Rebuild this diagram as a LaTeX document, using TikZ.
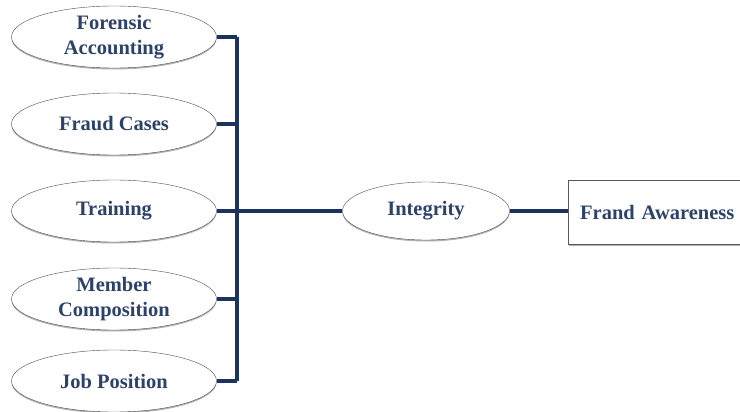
\documentclass[tikz,border=0pt]{standalone}
\usepackage{fontspec}
\setmainfont{Liberation Serif}
\usetikzlibrary{shapes.geometric,shadows}
\definecolor{busblue}{RGB}{28,52,92}
\definecolor{labelblue}{RGB}{45,66,105}
\tikzset{
    factor/.style={ellipse, draw=gray!60!black, fill=white, thin,
        minimum width=205pt, minimum height=62pt, inner sep=0pt,
        align=center, text=labelblue,
        font=\bfseries\fontsize{20.5}{25}\selectfont,
        drop shadow={shadow xshift=0pt, shadow yshift=-1.5pt, opacity=0.6}},
    outcome/.style={rectangle, draw=gray!70!black, fill=white, thin,
        text width=168pt, inner xsep=12pt, align=left,
        minimum height=64pt, inner ysep=0pt,
        text=labelblue, font=\bfseries\fontsize{20.5}{25}\selectfont,
        drop shadow={shadow xshift=1pt, shadow yshift=-1.5pt, opacity=0.6}},
    bus/.style={draw=busblue, line width=4pt},
}
\begin{document}
\begin{tikzpicture}[x=1pt, y=-1pt]
    \clip (0,0) rectangle (740,412) ;
    \fill[white] (0,0) rectangle (740,412) ;

    % left column
    \node[factor] (fa) at (114,37) {Forensic\\Accounting} ;
    \node[factor] (fc) at (114,124) {Fraud Cases} ;
    \node[factor] (tr) at (114,211) {Training} ;
    \node[factor] (mc) at (114,299) {Member\\Composition} ;
    \node[factor] (jp) at (114,381) {Job Position} ;

    % middle and right
    \node[factor, minimum width=167pt, minimum height=58pt] (ig) at (426,211) {Integrity} ;
    \node[outcome, anchor=west] (aw) at (568,212) {Frand Awareness} ;

    % bus
    \coordinate (bt) at (237,37) ;
    \coordinate (bb) at (237,381) ;
    \draw[bus] (bt) -- (bb) ;
    \draw[bus] (fa.east) -- (bt) ;
    \draw[bus] (fc.east) -- (fc.east -| bt) ;
    \draw[bus] (tr.east) -- (tr.east -| bt) ;
    \draw[bus] (mc.east) -- (mc.east -| bt) ;
    \draw[bus] (jp.east) -- (bb) ;
    \draw[bus] (tr.east -| bt) -- (ig.west) ;
    \draw[bus] (ig.east) -- (ig.east -| aw.west) ;
\end{tikzpicture}
\end{document}
